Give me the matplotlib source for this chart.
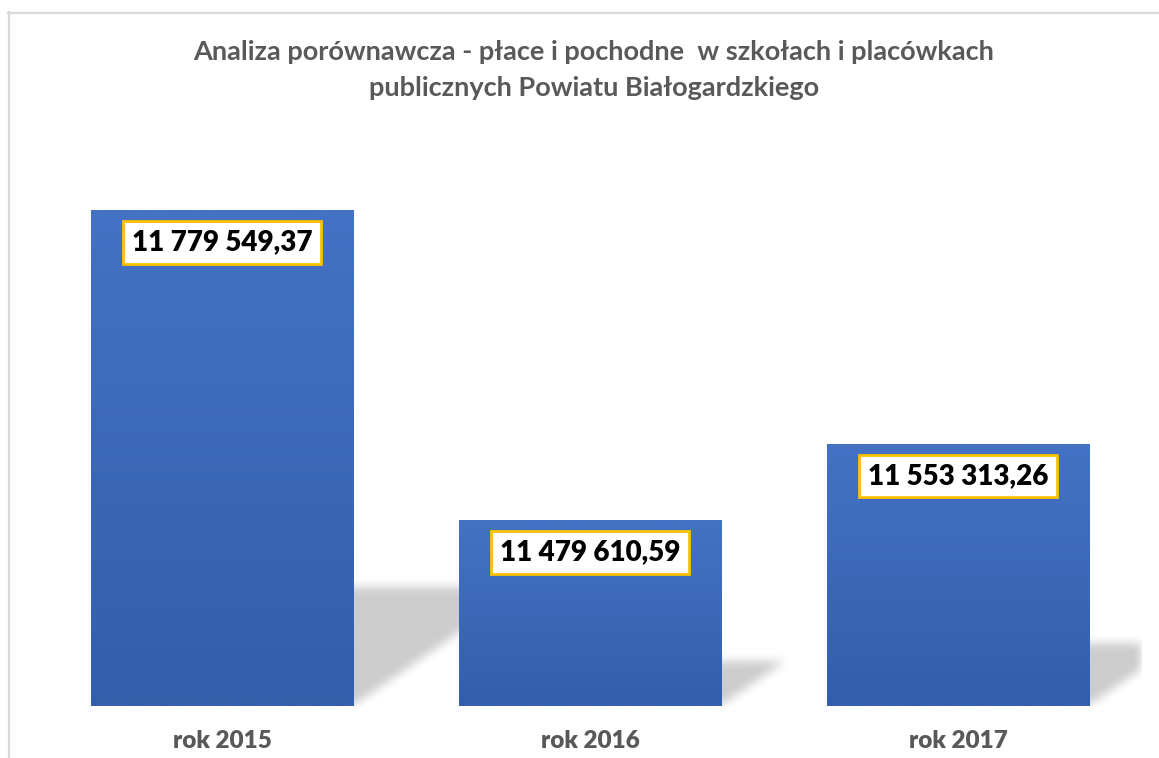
import numpy as np
import matplotlib.pyplot as plt
from matplotlib.lines import Line2D

# data
years = ['rok 2015', 'rok 2016', 'rok 2017']
values = [11779549.37, 11479610.59, 11553313.26]
value_labels = ['11 779 549,37', '11 479 610,59', '11 553 313,26']
title = 'Analiza porównawcza - płace i pochodne  w szkołach i placówkach\npublicznych Powiatu Białogardzkiego'
y_min, y_max = 11300000, 11850000

W, H = 1159, 758
fig = plt.figure(figsize=(W / 100, H / 100), dpi=100)
fig.patch.set_facecolor('white')

# chart area background: white -> grey -> white
bg = fig.add_axes([8 / W, 0, 1 - 8 / W, 1 - 12 / H], zorder=0)
yy = np.linspace(0, 1, 400)
peak = (758 - 440) / (758 - 12)
shade = np.where(yy < peak, yy / peak, (1 - yy) / (1 - peak))
lev = (255 - 38 * shade) / 255
grad = np.dstack([lev, lev, lev])[:, :1, :].repeat(2, axis=1)
bg.imshow(grad, aspect='auto', origin='lower', extent=(0, 1, 0, 1), interpolation='bilinear')
bg.set_axis_off()

# border of chart area
fig.add_artist(Line2D([8.5 / W, 8.5 / W], [0, 1 - 12 / H], color='#d9d9d9', lw=1.6))
fig.add_artist(Line2D([8 / W, 1], [1 - 12.5 / H, 1 - 12.5 / H], color='#d9d9d9', lw=1.6))

ax = fig.add_axes([38 / W, 52 / H, (1142 - 38) / W, (706 - 137.5) / H], zorder=1)
ax.set_facecolor('none')
x = np.arange(len(years))
ax.set_xlim(-0.5, len(years) - 0.5)
ax.set_ylim(y_min, y_max)

bars = ax.bar(x, values, width=0.712, bottom=0, color='#3c68b8', zorder=3)

# perspective shadows, rasterised and blurred
fig.canvas.draw()
bb = ax.get_window_extent()
nx, ny = int(bb.width), int(bb.height)
gx = np.linspace(-0.5, len(years) - 0.5, nx)
gy = np.linspace(y_min, y_max, ny)
X, Y = np.meshgrid(gx, gy)
mask = np.zeros((ny, nx))
px_x = nx / (len(years))          # px per x unit
px_y = ny / (y_max - y_min)       # px per y unit
for b in bars:
    h = b.get_height() - y_min
    sh = 0.24 * h
    dx = 1.45 * sh * px_y / px_x
    t = (Y - y_min) / sh
    inside = (t >= 0) & (t <= 1) & (X >= b.get_x() + dx * t) & (X <= b.get_x() + b.get_width() + dx * t)
    mask[inside] = 1.0


def box_blur(a, r):
    k = np.ones(2 * r + 1) / (2 * r + 1)
    a = np.apply_along_axis(lambda m: np.convolve(m, k, mode='same'), 0, a)
    a = np.apply_along_axis(lambda m: np.convolve(m, k, mode='same'), 1, a)
    return a


mask = box_blur(box_blur(mask, 5), 5)
rgba = np.zeros((ny, nx, 4))
rgba[..., 3] = 0.2 * mask
ax.imshow(rgba, origin='lower', aspect='auto', extent=(-0.5, len(years) - 0.5, y_min, y_max), zorder=2)

# gradient fill of bars
for b in bars:
    c_top = np.array([0x44, 0x72, 0xc4]) / 255
    c_bot = np.array([0x33, 0x5e, 0xa9]) / 255
    g = np.linspace(0, 1, 64)[:, None]
    cols = (c_bot + (c_top - c_bot) * g)[:, None, :].repeat(2, axis=1)
    im = ax.imshow(cols, origin='lower', aspect='auto', interpolation='bilinear',
                   extent=(b.get_x(), b.get_x() + b.get_width(), y_min, b.get_height()), zorder=4)
    im.set_clip_path(b)
ax.set_xlim(-0.5, len(years) - 0.5)
ax.set_ylim(y_min, y_max)

for xi, v, lab in zip(x, values, value_labels):
    ax.annotate(lab, (xi, v), xytext=(0, -32), textcoords='offset pixels', ha='center', va='center',
                fontsize=20, fontweight='heavy', family='Lato', color='black', zorder=6,
                bbox=dict(boxstyle='square,pad=0.3', fc='white', ec='#ffc000', lw=2))

ax.set_xticks(x)
ax.set_xticklabels(years, fontsize=17.5, fontweight='heavy', family='Lato', color='#595959')
ax.tick_params(axis='x', length=0, pad=17)
ax.set_yticks([])
for s in ax.spines.values():
    s.set_visible(False)

fig.text(594 / W, 1 - 70 / H, title, ha='center', va='center', fontsize=19.5, fontweight='bold',
         family='Lato', color='#595959', linespacing=1.6)

fig.savefig('out.png', dpi=100)
